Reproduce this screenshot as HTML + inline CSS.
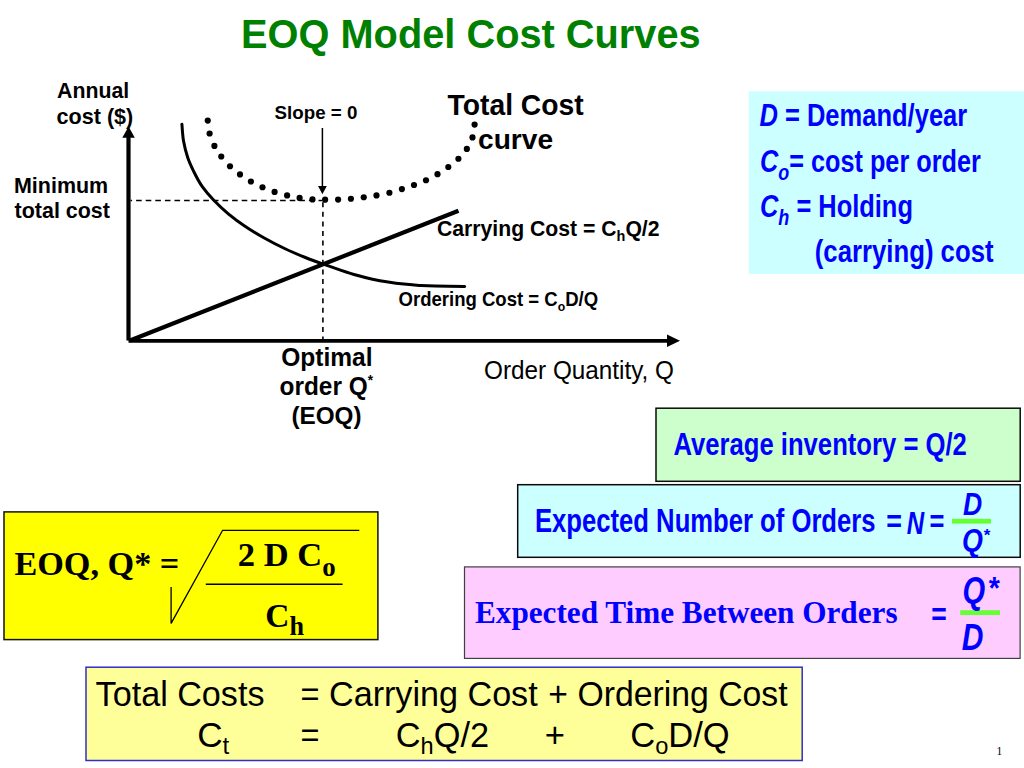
<!DOCTYPE html>
<html><head><meta charset="utf-8"><title>EOQ Model Cost Curves</title>
<style>
html,body{margin:0;padding:0;background:#fff;width:1024px;height:768px;overflow:hidden}
svg{display:block}
.a{font-family:"Liberation Sans",Arial,sans-serif}
.b{font-family:"Liberation Sans",Arial,sans-serif;font-weight:bold}
.t{font-family:"Liberation Serif","Times New Roman",serif;font-weight:bold}
.s{font-family:"Liberation Serif","Times New Roman",serif}
</style></head>
<body>
<svg width="1024" height="768" viewBox="0 0 1024 768">
<rect width="1024" height="768" fill="#fff"/>
<!-- chart -->
<g fill="#000" stroke="none">
<circle cx="207.75" cy="120.60" r="3.1"/>
<circle cx="209.60" cy="133.50" r="3.1"/>
<circle cx="214.40" cy="145.90" r="3.1"/>
<circle cx="221.25" cy="156.50" r="3.1"/>
<circle cx="230.00" cy="166.25" r="3.1"/>
<circle cx="240.00" cy="174.40" r="3.1"/>
<circle cx="250.90" cy="181.50" r="3.1"/>
<circle cx="262.50" cy="187.25" r="3.1"/>
<circle cx="274.60" cy="191.90" r="3.1"/>
<circle cx="287.10" cy="195.40" r="3.1"/>
<circle cx="299.60" cy="197.90" r="3.1"/>
<circle cx="312.50" cy="199.40" r="3.1"/>
<circle cx="325.10" cy="199.70" r="3.1"/>
<circle cx="338.10" cy="199.60" r="3.1"/>
<circle cx="350.90" cy="198.75" r="3.1"/>
<circle cx="363.75" cy="197.25" r="3.1"/>
<circle cx="376.50" cy="195.40" r="3.1"/>
<circle cx="389.40" cy="192.75" r="3.1"/>
<circle cx="401.90" cy="189.10" r="3.1"/>
<circle cx="414.00" cy="185.00" r="3.1"/>
<circle cx="426.00" cy="180.25" r="3.1"/>
<circle cx="437.50" cy="174.20" r="3.1"/>
<circle cx="448.30" cy="167.00" r="3.1"/>
<circle cx="458.40" cy="158.75" r="3.1"/>
<circle cx="466.85" cy="148.90" r="3.1"/>
<circle cx="472.50" cy="137.40" r="3.1"/>
<circle cx="474.60" cy="124.55" r="3.1"/>
</g>
<path d="M181.9 124.2 C182.2 127.0 182.5 135.2 183.5 140.8 C184.5 146.4 185.9 152.3 187.7 157.5 C189.4 162.7 191.6 167.1 194.0 172.0 C196.4 176.9 199.0 182.0 202.3 186.7 C205.6 191.4 209.4 195.7 213.8 200.2 C218.1 204.7 223.1 209.4 228.3 213.8 C233.5 218.1 239.1 222.3 245.0 226.2 C250.9 230.2 257.1 234.0 263.8 237.7 C270.4 241.4 277.7 245.2 284.6 248.5 C291.5 251.8 299.0 254.9 305.4 257.5 C311.8 260.1 317.2 262.0 323.2 264.1 C329.2 266.2 335.6 268.4 341.2 270.3 C346.9 272.2 351.7 273.8 356.9 275.3 C362.1 276.8 367.3 278.1 372.5 279.2 C377.7 280.3 382.9 281.2 388.1 282.0 C393.3 282.8 398.5 283.5 403.8 284.1 C409.0 284.7 414.2 285.2 419.4 285.5 C424.6 285.8 427.4 286.0 435.0 286.1 C442.6 286.2 459.8 286.3 464.7 286.4" fill="none" stroke="#000" stroke-width="3" stroke-linecap="round"/>
<line x1="130" y1="340.5" x2="458.5" y2="210.8" stroke="#000" stroke-width="4.2"/>
<line x1="130.5" y1="200.5" x2="322" y2="200.5" stroke="#000" stroke-width="1.6" stroke-dasharray="5.6 4" stroke-dashoffset="4"/>
<line x1="322.9" y1="202.2" x2="322.9" y2="340" stroke="#000" stroke-width="1.6" stroke-dasharray="5 4.6"/>
<line x1="322.4" y1="128" x2="322.4" y2="188" stroke="#000" stroke-width="1.5"/>
<polygon points="318,186 326.8,186 322.4,194.2" fill="#000"/>
<line x1="128.5" y1="136" x2="128.5" y2="340.5" stroke="#000" stroke-width="4.2"/>
<polygon points="122.3,137.8 128.6,126.4 134.8,137.8" fill="#000"/>
<line x1="128.5" y1="340.8" x2="668" y2="340.8" stroke="#000" stroke-width="3.8"/>
<polygon points="667,334.4 680,340.7 667,347" fill="#000"/>

<!-- boxes -->
<rect x="748.8" y="91.3" width="276" height="182.6" fill="#CCFFFF"/>
<rect x="656" y="408.2" width="364.2" height="73.1" fill="#CCFFCC" stroke="#0a0a0a" stroke-width="1.5"/>
<rect x="517.7" y="484.7" width="502.5" height="72.6" fill="#CCFFFF" stroke="#0a0a0a" stroke-width="1.5"/>
<rect x="952" y="518.8" width="39" height="4.8" fill="#66FF33"/>
<rect x="464.5" y="566.9" width="555.6" height="91.5" fill="#FFCCFF" stroke="#404040" stroke-width="1.2"/>
<rect x="960.2" y="610.2" width="39.8" height="4.9" fill="#66FF33"/>
<rect x="4" y="511.9" width="373.9" height="127.7" fill="#FFFF00" stroke="#111" stroke-width="1.5"/>
<polyline points="171.1,587 171.1,623.4 222.6,530.3 359.3,530.3" fill="none" stroke="#000" stroke-width="1.3"/>
<line x1="205.8" y1="584.2" x2="342.6" y2="584.2" stroke="#000" stroke-width="1.4"/>
<rect x="86" y="667.2" width="716.2" height="93.3" fill="#FFFF99" stroke="#2F2FCC" stroke-width="1.5"/>

<text id="title" class="b" x="241.00" y="48.00" font-size="40.2" fill="#008000" textLength="459.71" lengthAdjust="spacingAndGlyphs">EOQ Model Cost Curves</text>
<text id="annual" class="b" x="57.00" y="97.50" font-size="22.3" fill="#000" textLength="72.17" lengthAdjust="spacingAndGlyphs">Annual</text>
<text id="cost" class="b" x="56.60" y="124.10" font-size="22.3" fill="#000" textLength="76.69" lengthAdjust="spacingAndGlyphs">cost ($)</text>
<text id="minimum" class="b" x="14.00" y="193.10" font-size="22" fill="#000" textLength="94.17" lengthAdjust="spacingAndGlyphs">Minimum</text>
<text id="totcost" class="b" x="14.60" y="217.90" font-size="22" fill="#000" textLength="95.34" lengthAdjust="spacingAndGlyphs">total cost</text>
<text id="slope" class="b" x="274.60" y="118.80" font-size="19.0" fill="#000" textLength="82.76" lengthAdjust="spacingAndGlyphs">Slope = 0</text>
<text id="tc" class="b" x="447.60" y="114.60" font-size="29.6" fill="#000" textLength="136.02" lengthAdjust="spacingAndGlyphs">Total Cost</text>
<text id="curve" class="b" x="478.00" y="148.60" font-size="28.2" fill="#000" textLength="75.06" lengthAdjust="spacingAndGlyphs">curve</text>
<text id="carry" class="b" x="437.00" y="236.30" font-size="22" fill="#000" textLength="222.55" lengthAdjust="spacingAndGlyphs">Carrying Cost = C<tspan font-size="15" dy="5">h</tspan><tspan dy="-5">Q/2</tspan></text>
<text id="order" class="b" x="398.60" y="305.80" font-size="19.7" fill="#000" textLength="199.53" lengthAdjust="spacingAndGlyphs">Ordering Cost = C<tspan font-size="13" dy="5">o</tspan><tspan dy="-5">D/Q</tspan></text>
<text id="optimal" class="b" x="281.20" y="366.40" font-size="25.2" fill="#000" textLength="91.34" lengthAdjust="spacingAndGlyphs">Optimal</text>
<text id="orderq" class="b" x="279.60" y="395.00" font-size="25.2" fill="#000" textLength="93.34" lengthAdjust="spacingAndGlyphs">order Q<tspan font-size="14" dy="-10">*</tspan></text>
<text id="eoq" class="b" x="291.40" y="424.40" font-size="24.4" fill="#000" textLength="70.13" lengthAdjust="spacingAndGlyphs">(EOQ)</text>
<text id="oqty" class="a" x="484.00" y="378.50" font-size="24.9" fill="#000" textLength="190.02" lengthAdjust="spacingAndGlyphs">Order Quantity, Q</text>
<text id="dline" class="b" x="759.40" y="126.20" font-size="31" fill="#0000FF" textLength="207.84" lengthAdjust="spacingAndGlyphs"><tspan font-style="italic">D</tspan> = Demand/year</text>
<text id="coline" class="b" x="760.00" y="171.50" font-size="31" fill="#0000FF" textLength="220.82" lengthAdjust="spacingAndGlyphs"><tspan font-style="italic">C</tspan><tspan font-style="italic" font-size="22" dy="8">o</tspan><tspan dy="-8">= cost per order</tspan></text>
<text id="chline" class="b" x="760.00" y="216.80" font-size="31" fill="#0000FF" textLength="152.93" lengthAdjust="spacingAndGlyphs"><tspan font-style="italic">C</tspan><tspan font-style="italic" font-size="22" dy="8">h</tspan><tspan dy="-8"> = Holding</tspan></text>
<text id="carry2" class="b" x="814.80" y="262.10" font-size="31" fill="#0000FF" textLength="178.74" lengthAdjust="spacingAndGlyphs">(carrying) cost</text>
<text id="average" class="b" x="673.40" y="454.70" font-size="31" fill="#0000FF" textLength="293.44" lengthAdjust="spacingAndGlyphs">Average inventory = Q/2</text>
<text id="expnum" class="b" x="535.00" y="531.80" font-size="32.6" fill="#0000FF" textLength="340.52" lengthAdjust="spacingAndGlyphs">Expected Number of Orders</text>
<text id="eq1" class="b" x="886.20" y="531.80" font-size="31" fill="#0000FF" textLength="15.71" lengthAdjust="spacingAndGlyphs">=</text>
<text id="N" class="b" x="906.80" y="533.60" font-size="31" fill="#0000FF" textLength="17.39" lengthAdjust="spacingAndGlyphs"><tspan font-style="italic">N</tspan></text>
<text id="eq2" class="b" x="929.40" y="531.80" font-size="31" fill="#0000FF" textLength="14.91" lengthAdjust="spacingAndGlyphs">=</text>
<text id="D1" class="b" x="963.00" y="514.80" font-size="31" fill="#0000FF" textLength="19.19" lengthAdjust="spacingAndGlyphs"><tspan font-style="italic">D</tspan></text>
<text id="Q1" class="b" x="962.00" y="550.90" font-size="31" fill="#0000FF" textLength="20.92" lengthAdjust="spacingAndGlyphs"><tspan font-style="italic">Q</tspan></text>
<text id="star1" class="b" x="983.80" y="541.00" font-size="17" fill="#0000FF">*</text>
<text id="exptime" class="t" x="475.00" y="623.40" font-size="31.4" fill="#0000FF" textLength="422.56" lengthAdjust="spacingAndGlyphs">Expected Time Between Orders</text>
<text id="eq3" class="b" x="931.20" y="624.80" font-size="31" fill="#0000FF" textLength="15.51" lengthAdjust="spacingAndGlyphs">=</text>
<text id="Q2" class="b" x="962.40" y="602.90" font-size="36.5" fill="#0000FF" textLength="22.63" lengthAdjust="spacingAndGlyphs"><tspan font-style="italic">Q</tspan></text>
<text id="star2" class="b" x="988.70" y="598.60" font-size="31" fill="#0000FF" textLength="11.14" lengthAdjust="spacingAndGlyphs">*</text>
<text id="D2" class="b" x="961.80" y="650.30" font-size="36.5" fill="#0000FF" textLength="21.68" lengthAdjust="spacingAndGlyphs"><tspan font-style="italic">D</tspan></text>
<text id="eoqq" class="t" x="14.40" y="575.20" font-size="33.3" fill="#000" textLength="164.92" lengthAdjust="spacingAndGlyphs">EOQ, Q* =</text>
<text id="twodco" class="t" x="237.80" y="566.40" font-size="34" fill="#000" textLength="97.91" lengthAdjust="spacingAndGlyphs">2 D C<tspan font-size="26.5" dy="10">o</tspan></text>
<text id="ch" class="t" x="265.20" y="627.30" font-size="34" fill="#000" textLength="38.72" lengthAdjust="spacingAndGlyphs">C<tspan font-size="26.5" dy="7.5">h</tspan></text>
<text id="totcosts" class="a" x="95.60" y="705.90" font-size="35" fill="#000" textLength="168.89" lengthAdjust="spacingAndGlyphs">Total Costs</text>
<text id="eq5" class="a" x="300.60" y="705.90" font-size="35" fill="#000" textLength="19.01" lengthAdjust="spacingAndGlyphs">=</text>
<text id="carrycost" class="a" x="329.00" y="705.90" font-size="35" fill="#000" textLength="208.67" lengthAdjust="spacingAndGlyphs">Carrying Cost</text>
<text id="plus1" class="a" x="548.20" y="705.90" font-size="35" fill="#000" textLength="19.61" lengthAdjust="spacingAndGlyphs">+</text>
<text id="ordcost" class="a" x="577.40" y="705.90" font-size="35" fill="#000" textLength="210.22" lengthAdjust="spacingAndGlyphs">Ordering Cost</text>
<text id="ct" class="a" x="197.20" y="746.90" font-size="35" fill="#000" textLength="32.12" lengthAdjust="spacingAndGlyphs">C<tspan font-size="24" dy="7">t</tspan></text>
<text id="eq4" class="a" x="300.60" y="746.90" font-size="35" fill="#000" textLength="19.01" lengthAdjust="spacingAndGlyphs">=</text>
<text id="chq2" class="a" x="395.80" y="746.90" font-size="35" fill="#000" textLength="93.33" lengthAdjust="spacingAndGlyphs">C<tspan font-size="24" dy="7">h</tspan><tspan dy="-7">Q/2</tspan></text>
<text id="plus2" class="a" x="544.80" y="746.90" font-size="35" fill="#000" textLength="20.21" lengthAdjust="spacingAndGlyphs">+</text>
<text id="cod" class="a" x="630.20" y="746.90" font-size="35" fill="#000" textLength="99.51" lengthAdjust="spacingAndGlyphs">C<tspan font-size="24" dy="7">o</tspan><tspan dy="-7">D/Q</tspan></text>
<text id="pnum" class="s" x="996.60" y="755.00" font-size="11.5" fill="#000">1</text>
</svg>
</body></html>
